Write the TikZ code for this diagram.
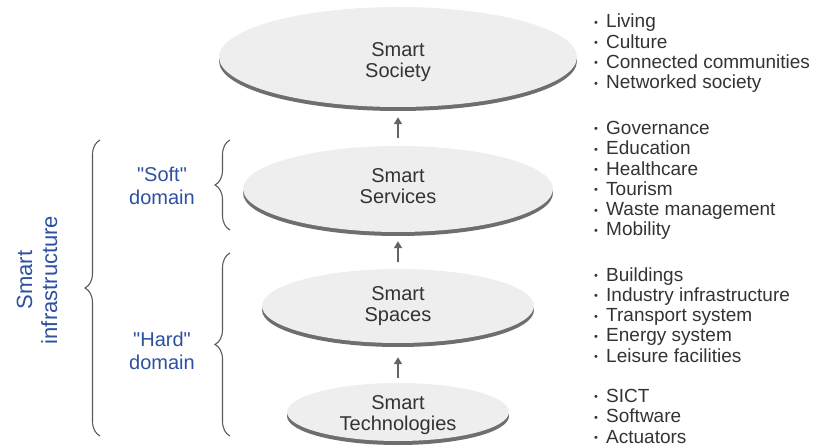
\documentclass[tikz,border=0pt]{standalone}
\usepackage{fontspec}
\setmainfont{Liberation Sans}
\newfontfamily\plainsans{Liberation Sans}
\usetikzlibrary{shapes.geometric,shadows,decorations.pathreplacing,arrows.meta}
\definecolor{discfill}{RGB}{238,238,238}
\definecolor{discrim}{RGB}{110,110,110}
\definecolor{txtgray}{RGB}{51,51,51}
\definecolor{lblblue}{RGB}{45,80,160}
\definecolor{bracegray}{RGB}{90,90,90}
\definecolor{arrgray}{RGB}{100,100,100}
\newcommand\bul{\makebox[12pt][l]{\raisebox{1.6pt}{\fontsize{11}{11}\selectfont\textbullet}}}
\newcommand\lines[2]{\begin{tabular}[t]{@{}#1@{}}#2\end{tabular}}
\tikzset{
  disc/.style={ellipse, fill=discfill, inner sep=0pt, text=txtgray,
    font=\fontsize{20}{21}\selectfont, text depth=20pt,
    drop shadow={shadow xshift=0pt, shadow yshift=-4pt, fill=discrim, opacity=1}},
  listbox/.style={anchor=base west, inner sep=0pt, text=txtgray,
    font=\fontsize{19}{20.3}\selectfont},
  domlabel/.style={anchor=base, text=lblblue, inner sep=0pt, font=\plainsans\fontsize{20}{22.5}\selectfont},
  bracestyle/.style={draw=bracegray, line width=1.1pt, decorate,
    decoration={brace, amplitude=15pt}},
  uparrow/.style={draw=arrgray, line width=2pt, -{Triangle[length=7pt,width=8pt]}}
}
\begin{document}
\begin{tikzpicture}[x=1pt,y=-1pt]
\useasboundingbox (0,0) rectangle (813,446);
% discs
\node[disc, minimum width=358pt, minimum height=100pt, text height=19.4pt] (soc) at (398,57) {\lines{c}{Smart\\Society}};
\node[disc, minimum width=310pt, minimum height=86pt, text height=7pt] (ser) at (398,189) {\lines{c}{Smart\\Services}};
\node[disc, minimum width=272pt, minimum height=74pt, text height=8pt] (spa) at (398,306) {\lines{c}{Smart\\Spaces}};
\node[disc, minimum width=222pt, minimum height=58pt, text height=14.5pt] (tec) at (398,412) {\lines{c}{Smart\\Technologies}};
% arrows
\draw[uparrow, shorten <=8pt, shorten >=10pt] (ser.north) -- (soc.south);
\draw[uparrow, shorten <=7pt, shorten >=9pt] (spa.north) -- (ser.south);
\draw[uparrow, shorten <=5pt, shorten >=14pt] (tec.north) -- (spa.south);
% lists
\node[listbox] (l1) at (594,28) {\lines{l}{\bul Living\\\bul Culture\\\bul Connected communities\\\bul Networked society}};
\node[listbox] (l2) at (594,134.5) {\lines{l}{\bul Governance\\\bul Education\\\bul Healthcare\\\bul Tourism\\\bul Waste management\\\bul Mobility}};
\node[listbox] (l3) at (594,281) {\lines{l}{\bul Buildings\\\bul Industry infrastructure\\\bul Transport system\\\bul Energy system\\\bul Leisure facilities}};
\node[listbox] (l4) at (594,402.5) {\lines{l}{\bul SICT\\\bul Software\\\bul Actuators}};
% braces
\coordinate (bigT) at (100,140);
\coordinate (bigB) at (100,436);
\coordinate (softT) at (230,140);
\coordinate (softB) at (230,230);
\coordinate (hardT) at (230,253);
\coordinate (hardB) at (230,436);
\draw[bracestyle] (bigB) -- (bigT);
\draw[bracestyle] (softB) -- (softT);
\draw[bracestyle] (hardB) -- (hardT);
% labels
\node[domlabel] (soft) at (162,181.7) {\lines{c}{"Soft"\\domain}};
\node[domlabel] (hard) at (162,346.7) {\lines{c}{"Hard"\\domain}};
\node[domlabel, rotate=90, font=\plainsans\fontsize{22}{25}\selectfont] (infra) at (32,280) {\lines{c}{Smart\\infrastructure}};
\end{tikzpicture}
\end{document}
